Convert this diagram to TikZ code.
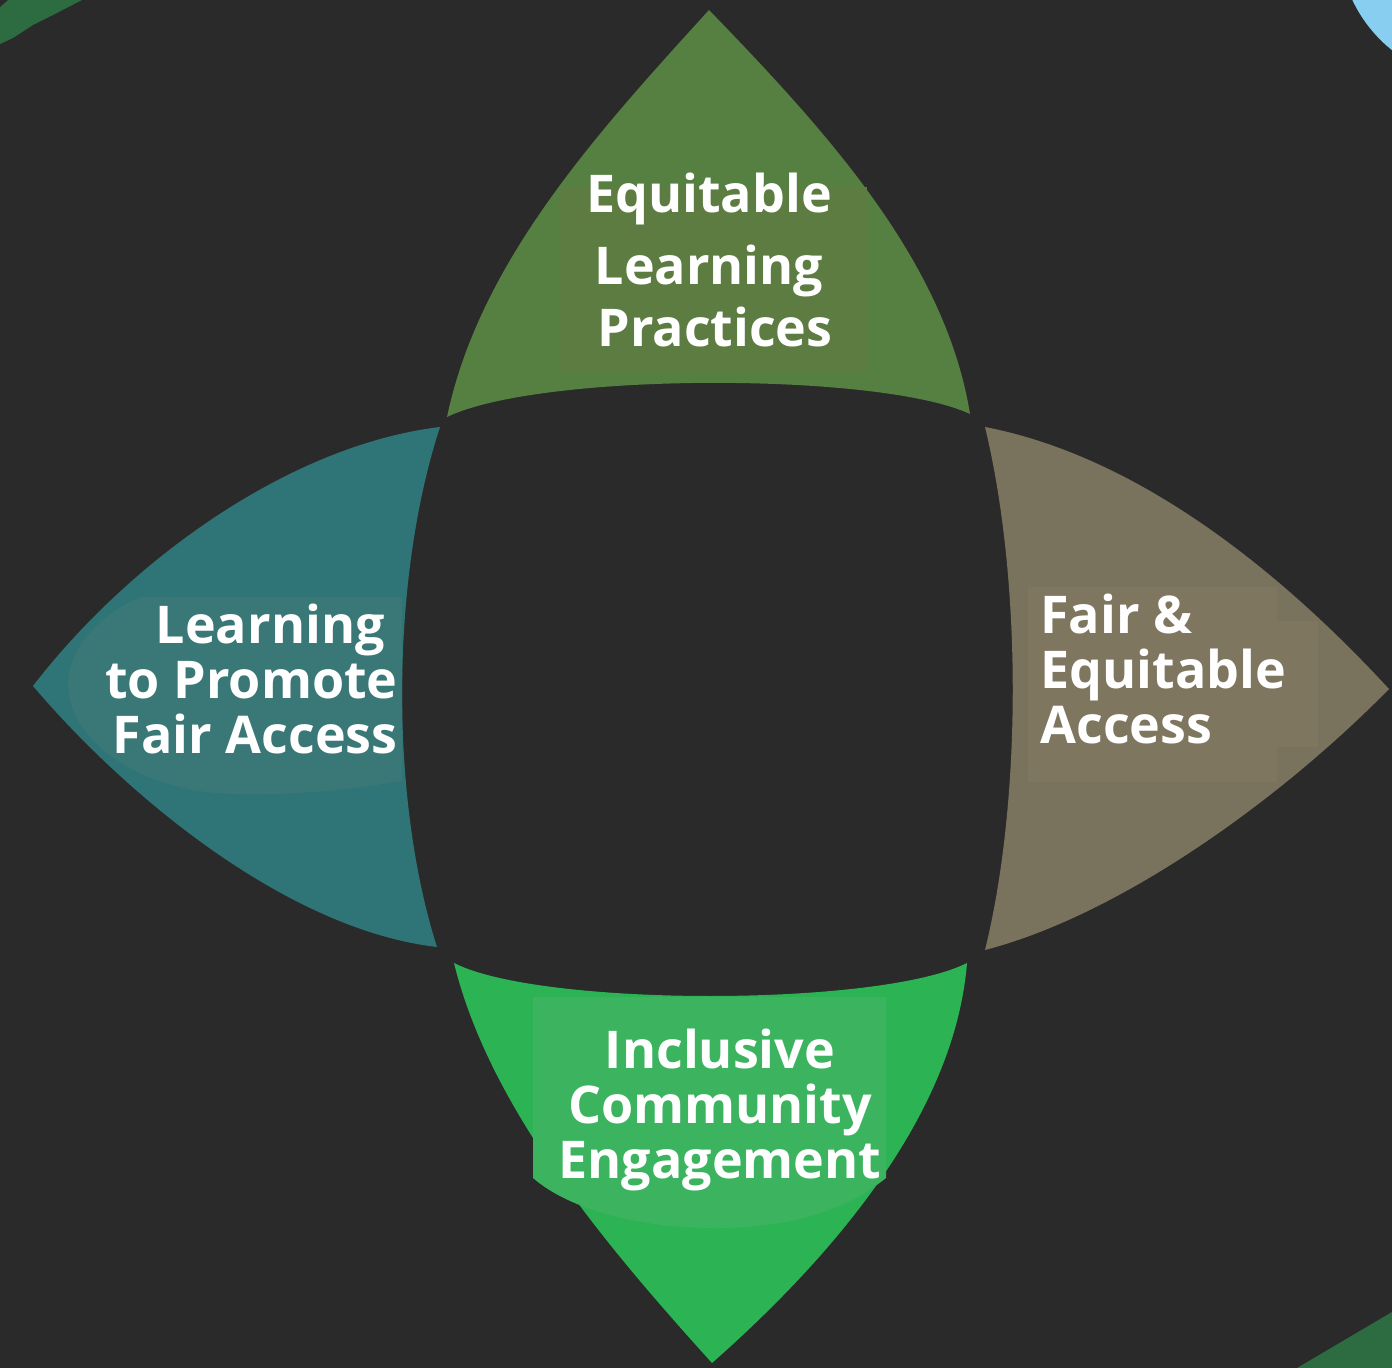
\documentclass[tikz,border=0pt]{standalone}
\usepackage{fontspec}
\setmainfont{Open Sans}
\definecolor{bgdark}{RGB}{42,42,42}
\definecolor{cornergreen}{RGB}{45,107,65}
\definecolor{skyblue}{RGB}{135,206,240}
\definecolor{olivepetal}{RGB}{86,128,66}
\definecolor{olivetag}{RGB}{92,124,65}
\definecolor{tealpetal}{RGB}{47,116,118}
\definecolor{tealtag}{RGB}{58,120,120}
\definecolor{taupepetal}{RGB}{121,114,92}
\definecolor{taupetag}{RGB}{126,118,95}
\definecolor{greenpetal}{RGB}{44,179,84}
\definecolor{greentag}{RGB}{60,180,95}
\tikzset{
  petal/.style={draw opacity=0, fill=#1},
  tag/.style={text=white, inner sep=0pt, font=\fontsize{26}{27.5}\selectfont\bfseries},
}
\begin{document}
\begin{tikzpicture}[x=0.5pt,y=0.5pt,yscale=-1,xscale=1]
\path [fill=bgdark] (0,0) rectangle (1392,1368);
\clip (0,0) rectangle (1392,1368);

%Corner pieces
\fill [cornergreen] (0,0) -- (82,0) -- (53,15) -- (33,25) -- (13,38) -- (0,44) -- cycle ;
\fill [bgdark] (0,0) -- (8,0) -- (0,7) -- cycle ;
\fill [skyblue] (1480,-60) circle [radius=141] ;
\fill [cornergreen] (1297,1368) -- (1392,1312) -- (1392,1368) -- cycle ;

%Shape: top petal
\draw [petal=olivepetal] (709,10) .. controls (600,130) and (480,260) .. (447,417) .. controls (540,372) and (880,372) .. (970,414) .. controls (945,260) and (825,130) .. (709,10) -- cycle ;
\fill [olivetag] (559,187) rectangle (867,372) ;
%Shape: right petal
\draw [petal=taupepetal] (985,427) .. controls (1130,455) and (1270,560) .. (1389,689) .. controls (1280,800) and (1120,915) .. (985,950) .. controls (1022,800) and (1022,580) .. (985,427) -- cycle ;
\fill [taupetag] (1028,587) -- (1277,587) -- (1277,621) -- (1318,621) -- (1318,747) -- (1277,747) -- (1277,782) -- (1028,782) -- cycle ;
%Shape: left petal
\draw [petal=tealpetal] (440,427) .. controls (290,445) and (130,560) .. (33,686) .. controls (130,800) and (290,930) .. (437,947) .. controls (390,800) and (390,580) .. (440,427) -- cycle ;
\fill [tealtag] (402,597) -- (140,597) .. controls (90,620) and (60,660) .. (70,700) .. controls (80,745) and (140,790) .. (230,794) .. controls (300,796) and (360,788) .. (402,781) -- cycle ;
%Shape: bottom petal
\draw [petal=greenpetal] (454,963) .. controls (540,1007) and (880,1007) .. (967,963) .. controls (955,1110) and (840,1250) .. (712,1363) .. controls (610,1250) and (490,1110) .. (454,963) -- cycle ;
\fill [greentag] (533,997) -- (886,997) -- (886,1178) .. controls (840,1215) and (780,1228) .. (715,1228) .. controls (640,1228) and (570,1210) .. (533,1178) -- cycle ;

%Labels
\node [tag, align=center, anchor=base, font=\fontsize{26}{31}\selectfont\bfseries] (equit) at (709,347) {Equitable\\[5pt]Learning\\\hspace*{6pt}Practices};
\node [tag, align=left, anchor=base west] (fair) at (1040,744) {Fair \&\\Equitable\\Access};
\node [tag, align=right, anchor=base east] (promote) at (398,754) {Learning\hspace*{6.5pt}\\to Promote\hspace*{6.5pt}\\Fair Access};
\node [tag, align=center, anchor=base] (inclusive) at (720,1178) {Inclusive\\Community\\Engagement};

\end{tikzpicture}
\end{document}
